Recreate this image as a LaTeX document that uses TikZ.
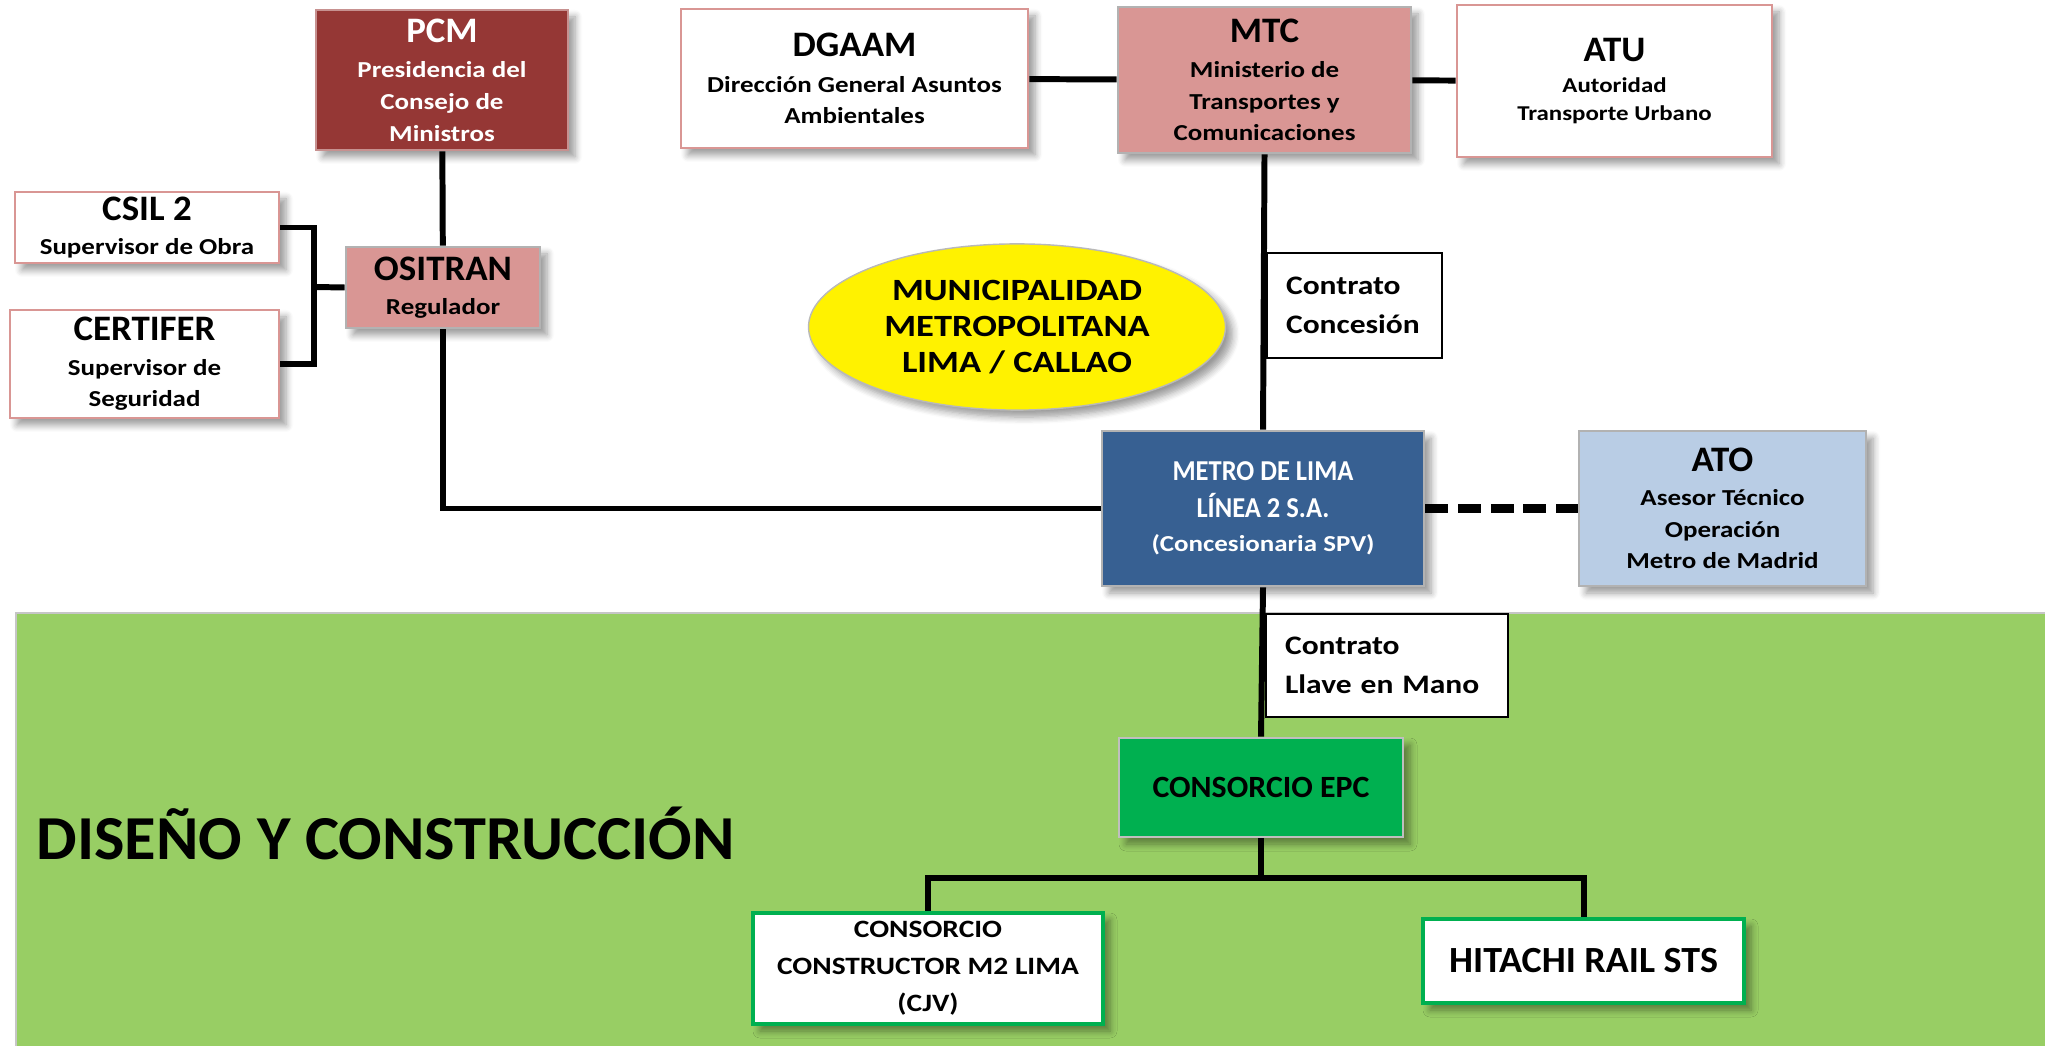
\documentclass[tikz,border=0pt]{standalone}
\usepackage{fontspec}
\setmainfont{Carlito}[FakeStretch=1.18]
\newfontfamily\titfamily{Carlito}[FakeStretch=1.03]
\newfontfamily\narrowfamily{Carlito}[FakeStretch=0.92]
\usetikzlibrary{shapes.geometric,shadows.blur,positioning}
\definecolor{pcmred}{RGB}{149,55,53}
\definecolor{rosa}{RGB}{217,150,148}
\definecolor{metroblue}{RGB}{55,96,146}
\definecolor{atoblue}{RGB}{185,205,229}
\definecolor{epcgreen}{RGB}{0,176,80}
\definecolor{bggreen}{RGB}{152,206,100}
\newcommand{\orgtit}{\titfamily\fontsize{10.2}{12}\selectfont}
\newcommand{\orgsub}{\fontsize{6.5}{9}\selectfont}
\newcommand{\metrotit}{\narrowfamily\fontsize{8.2}{10.5}\selectfont}

\begin{document}
\begin{tikzpicture}
         [org/.style={rectangle, draw, align=center, inner sep=1pt,
            font=\bfseries\orgsub,
            blur shadow={shadow xshift=0.7mm, shadow yshift=-0.7mm, shadow blur radius=0.7mm, shadow blur steps=6}},
          whitebox/.style={org, fill=white, draw=rosa, line width=0.8pt},
          rosabox/.style={org, fill=rosa, draw=gray!60, line width=0.8pt},
          greenbox/.style={org, fill=white, draw=epcgreen, line width=1.4pt},
          contrato/.style={rectangle, draw=black, line width=0.6pt, fill=white, align=left,
            inner xsep=0.19cm, inner ysep=1pt, anchor=north west,
            font=\bfseries\fontsize{7.6}{11}\selectfont},
          link/.style={line width=1.7pt}]
         \useasboundingbox (0,0) rectangle (20.45,-10.46);
         \fill[bggreen] (0.16,-6.13) rectangle (20.45,-10.46);
         \draw[gray!45, line width=0.6pt] (0.16,-10.46) -- (0.16,-6.13) -- (20.45,-6.13);

         \node[org, fill=pcmred, draw=rosa!80!gray, line width=0.8pt, text=white,
            minimum width=2.52cm, minimum height=1.40cm] (pcm) at (4.42,-0.80)
            {\orgtit PCM\\[1.2pt]\orgsub Presidencia del\\\orgsub Consejo de\\\orgsub Ministros};
         \node[whitebox, minimum width=2.64cm, minimum height=0.71cm] (csil) at (1.47,-2.275)
            {\orgtit CSIL 2\\[0.7pt]\orgsub Supervisor de Obra};
         \node[whitebox, minimum width=2.69cm, minimum height=1.08cm] (certifer) at (1.445,-3.64)
            {\orgtit CERTIFER\\[0.7pt]\orgsub Supervisor de\\\orgsub Seguridad};
         \node[rosabox, minimum width=1.94cm, minimum height=0.81cm] (ositran) at (4.43,-2.875)
            {\orgtit OSITRAN\\[0.7pt]\orgsub Regulador};
         \node[whitebox, minimum width=3.47cm, minimum height=1.39cm] (dgaam) at (8.545,-0.785)
            {\orgtit DGAAM\\[1.2pt]\orgsub Dirección General Asuntos\\\orgsub Ambientales};
         \node[rosabox, minimum width=2.93cm, minimum height=1.46cm] (mtc) at (12.645,-0.80)
            {\orgtit MTC\\[0.9pt]\orgsub Ministerio de\\\orgsub Transportes y\\\orgsub Comunicaciones};
         \node[whitebox, minimum width=3.15cm, minimum height=1.52cm,
            font=\bfseries\fontsize{6}{8}\selectfont] (atu) at (16.145,-0.81)
            {\orgtit ATU\\[1pt]\fontsize{6}{8}\selectfont Autoridad\\\fontsize{6}{8}\selectfont Transporte Urbano};

         \node[ellipse, draw=gray!55, fill=yellow, align=center, minimum width=4.17cm, minimum height=1.59cm,
            font=\bfseries\fontsize{8.8}{10.3}\selectfont,
            blur shadow={shadow xshift=0.7mm, shadow yshift=-0.7mm, shadow blur radius=0.7mm, shadow blur steps=6}]
            (mml) at (10.17,-3.27) {MUNICIPALIDAD\\METROPOLITANA\\LIMA / CALLAO};

         \node[org, fill=metroblue, draw=gray!60, line width=0.8pt, text=white,
            minimum width=3.22cm, minimum height=1.55cm, font=\bfseries\fontsize{8}{10.5}\selectfont]
            (metro) at (12.63,-5.085)
            {\metrotit METRO DE LIMA\\\metrotit LÍNEA 2 S.A.\\[-0.7pt]\orgsub (Concesionaria SPV)};
         \node[org, fill=atoblue, draw=gray!60, line width=0.8pt,
            minimum width=2.87cm, minimum height=1.55cm] (ato) at (17.225,-5.085)
            {\orgtit ATO\\[0.7pt]\orgsub Asesor Técnico\\\orgsub Operación\\\orgsub Metro de Madrid};

         \node[contrato, text width=1.37cm, minimum height=1.05cm] (cc) at (12.66,-2.52) {Contrato\\Concesión};
         \node[contrato, text width=2.04cm, minimum height=1.03cm] (cl) at (12.65,-6.13) {Contrato\\Llave en Mano};

         \node[org, fill=epcgreen, draw=gray!50, line width=0.8pt, minimum width=2.84cm, minimum height=0.99cm,
            font=\bfseries\titfamily\fontsize{8.8}{11}\selectfont] (epc) at (12.61,-7.875) {CONSORCIO EPC};
         \node[greenbox, minimum width=3.50cm, minimum height=1.11cm, font=\bfseries\fontsize{7.1}{10.5}\selectfont]
            (cjv) at (9.28,-9.685)
            {\fontsize{7.1}{10.5}\selectfont CONSORCIO\\\fontsize{7.1}{10.5}\selectfont CONSTRUCTOR M2 LIMA\\\fontsize{7.1}{10.5}\selectfont (CJV)};
         \node[greenbox, minimum width=3.21cm, minimum height=0.84cm, font=\bfseries\titfamily\fontsize{10.5}{12}\selectfont]
            (hitachi) at (15.835,-9.61) {HITACHI RAIL STS};

         \node[anchor=west, inner sep=0pt, font=\bfseries\titfamily\fontsize{17.8}{20}\selectfont]
            (fase) at (0.36,-8.33) {DISEÑO Y CONSTRUCCIÓN};

         \coordinate (brk) at (3.14,-2.87);
         \coordinate (split) at (12.61,-8.78);

         \draw[link] (pcm) -- (ositran);
         \draw[link] (csil.east) -| (brk) |- (certifer.east);
         \draw[link] (brk) -- (ositran.west);
         \draw[link] (ositran.south) |- (metro.west);
         \draw[link] (dgaam) -- (mtc);
         \draw[link] (mtc) -- (atu);
         \draw[link] (mtc.south) -- (metro.north);
         \draw[line width=2.3pt, dash pattern=on 6.5pt off 2.8pt] (metro.east) -- (ato.west);
         \draw[link] (metro.south) -- (epc.north);
         \draw[link] (epc.south) -- (split);
         \draw[link] (split) -| (cjv.north);
         \draw[link] (split) -| (hitachi.north);
      \end{tikzpicture}
\end{document}
